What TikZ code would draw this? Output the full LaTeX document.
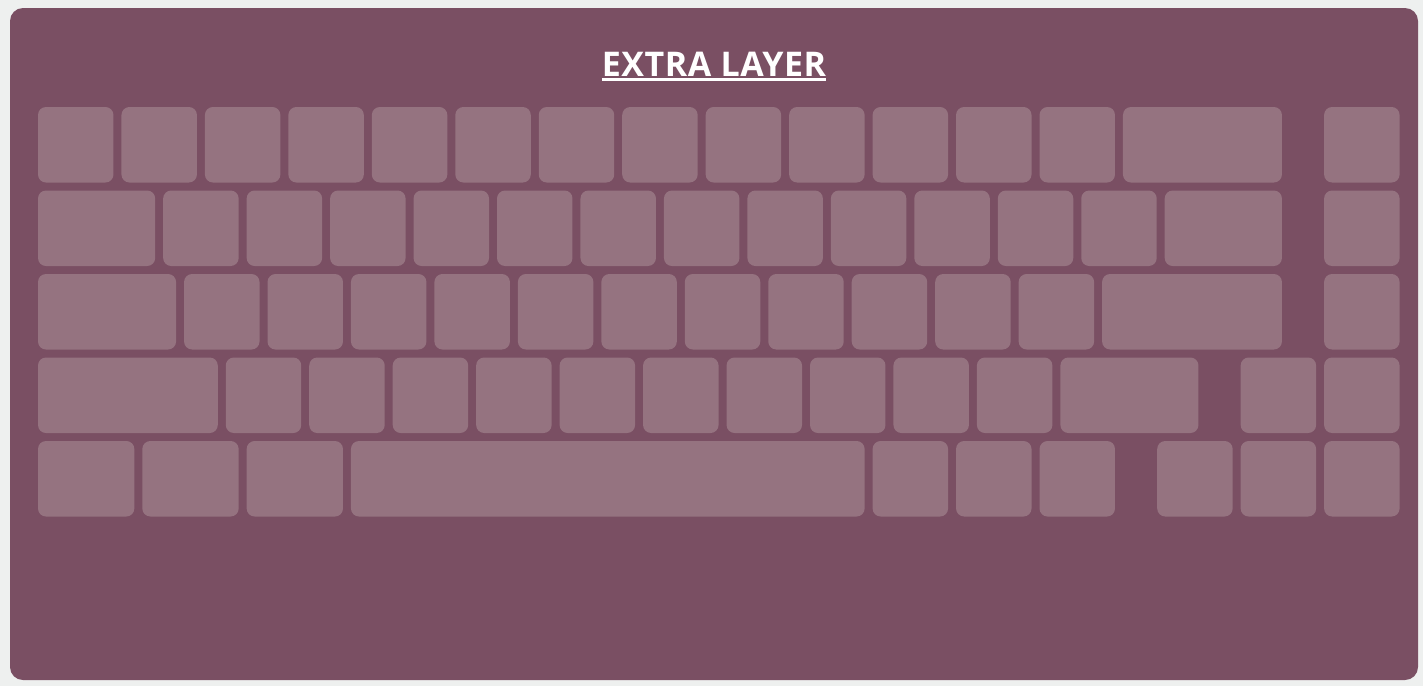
\documentclass[tikz,border=0pt]{standalone}
\usepackage{fontspec}
\setmainfont{Open Sans}
\definecolor{pagebg}{HTML}{EEF0EF}
\definecolor{panel}{HTML}{7A4F63}
\definecolor{keyc}{HTML}{957380}
\newcommand\kbkey[4]{% name, row, start (units), width (units)
  \node[keybox, minimum width={#4*83.46pt-8pt}] (#1) at ({38+#3*83.46},{107+#2*83.5}) {};}
\begin{document}
\begin{tikzpicture}[x=1pt,y=-1pt,
  keybox/.style={fill=keyc, rounded corners=8pt, inner sep=0pt, outer sep=0pt,
    minimum height=75.5pt, anchor=north west, draw=none}]
\useasboundingbox (0,0) rectangle (1423,686);
\fill[pagebg] (0,0) rectangle (1423,686);
\fill[panel, rounded corners=13pt] (10,8) rectangle (1418,680);
\node[text=white, inner sep=0pt, anchor=base, font=\bfseries\fontsize{34}{40}\selectfont] (title) at (714,76) {\addfontfeatures{LetterSpace=1.5}EXTRA LAYER};
\draw[white, line width=2.6pt] (title.west |- 0,79.5) -- (title.east |- 0,79.5);
% row 1
\foreach \s [count=\i] in {0,...,12} {\kbkey{a\i}{0}{\s}{1}}
\kbkey{a14}{0}{13}{2}
\kbkey{a15}{0}{15.41}{1}
% row 2
\kbkey{b1}{1}{0}{1.5}
\foreach \s [count=\i from 2] in {1.5,2.5,...,12.5} {\kbkey{b\i}{1}{\s}{1}}
\kbkey{b14}{1}{13.5}{1.5}
\kbkey{b15}{1}{15.41}{1}
% row 3
\kbkey{c1}{2}{0}{1.75}
\foreach \s [count=\i from 2] in {1.75,2.75,...,11.75} {\kbkey{c\i}{2}{\s}{1}}
\kbkey{c13}{2}{12.75}{2.25}
\kbkey{c14}{2}{15.41}{1}
% row 4
\kbkey{d1}{3}{0}{2.25}
\foreach \s [count=\i from 2] in {2.25,3.25,...,11.25} {\kbkey{d\i}{3}{\s}{1}}
\kbkey{d12}{3}{12.25}{1.75}
\kbkey{d13}{3}{14.41}{1}
\kbkey{d14}{3}{15.41}{1}
% row 5
\kbkey{e1}{4}{0}{1.25}
\kbkey{e2}{4}{1.25}{1.25}
\kbkey{e3}{4}{2.5}{1.25}
\kbkey{e4}{4}{3.75}{6.25}
\kbkey{e5}{4}{10}{1}
\kbkey{e6}{4}{11}{1}
\kbkey{e7}{4}{12}{1}
\kbkey{e8}{4}{13.41}{1}
\kbkey{e9}{4}{14.41}{1}
\kbkey{e10}{4}{15.41}{1}
\end{tikzpicture}
\end{document}
